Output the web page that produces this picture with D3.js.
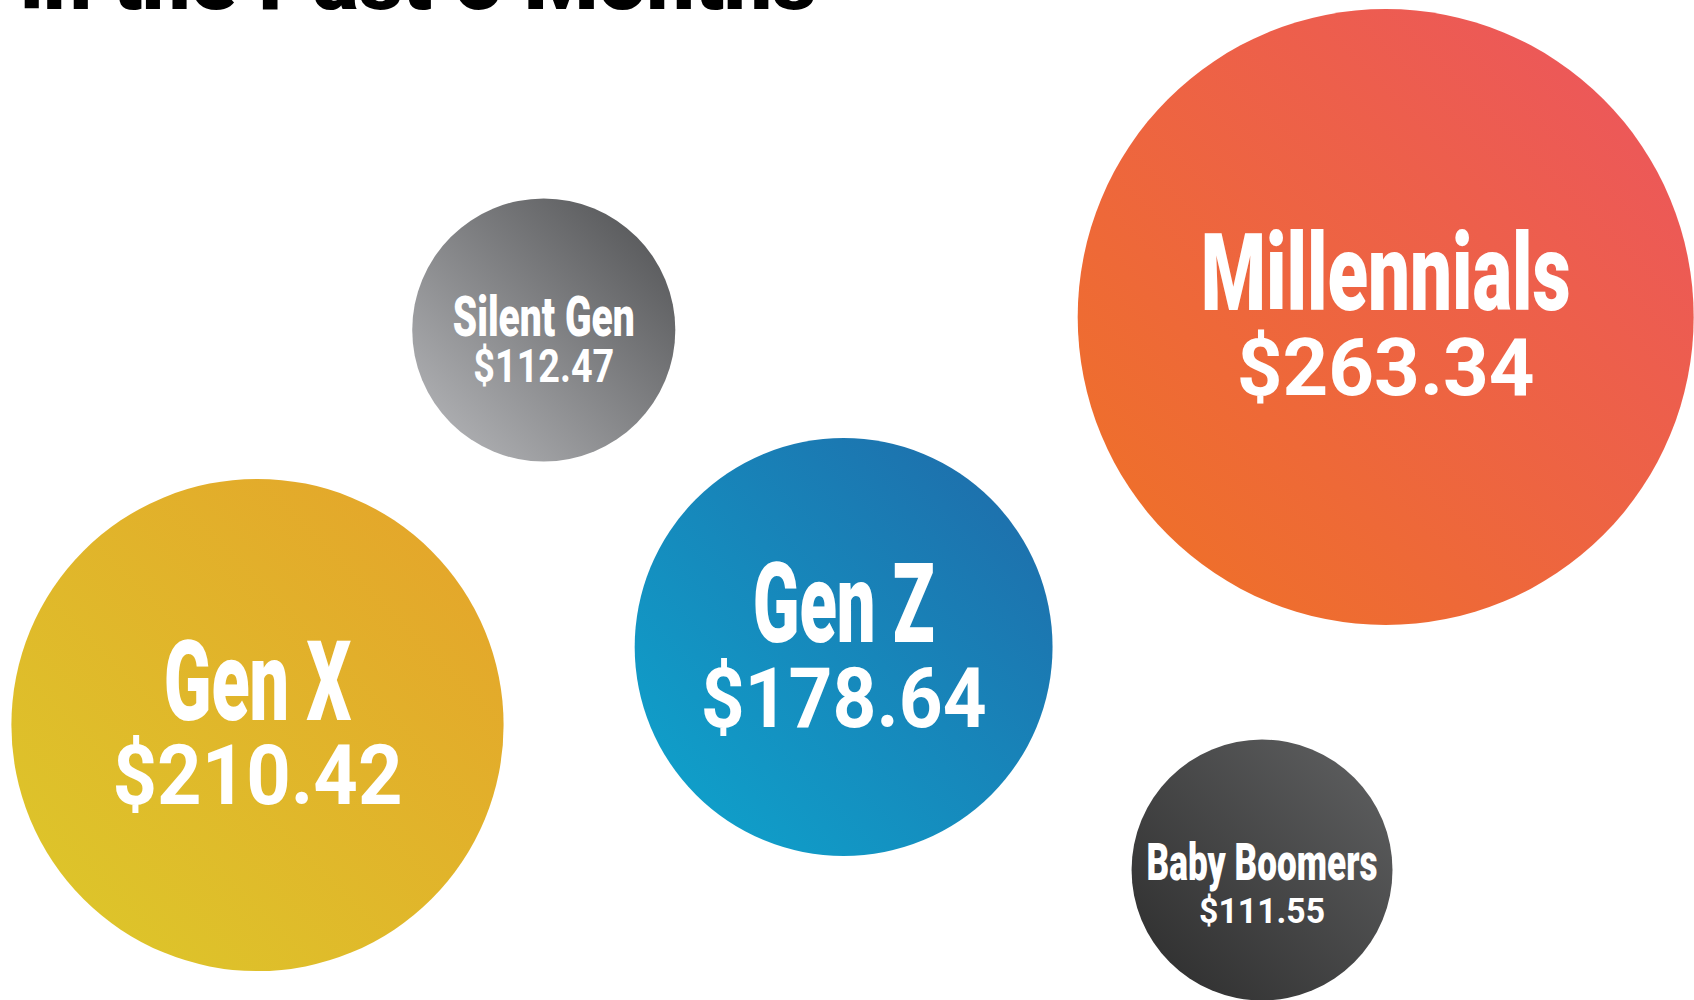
<!DOCTYPE html>
<html>
<head>
<meta charset="utf-8">
<script src="https://cdn.jsdelivr.net/npm/d3@7"></script>
<style>
  html, body { margin: 0; padding: 0; background: #fff; overflow: hidden; }
  svg { display: block; }
</style>
</head>
<body>
<script>
(function(){
  var width = 1694;
  var height = 1000;

  // data
  var generations = ["Silent Gen", "Gen X", "Gen Z", "Millennials", "Baby Boomers"];
  var spend = [112.47, 210.42, 178.64, 263.34, 111.55];
  var titleLine = "in the Past 6 Months";

  // layout (normalised bubble anchors, 0..1 of the page)
  var anchorX = [0.321, 0.152, 0.498, 0.818, 0.745];
  var anchorY = [0.330, 0.725, 0.647, 0.317, 0.870];

  // styling per bubble
  var gradients = [
    ["#babbbe", "#4d4e50"],
    ["#dcc92a", "#e5a22b"],
    ["#0da6ce", "#2069a8"],
    ["#ef7323", "#ec5461"],
    ["#2b2b2b", "#616263"]
  ];
  var labelSize = [56, 112, 112, 108, 52];
  var valueSize = [46, 83, 83, 80, 35];
  var labelWidth = [182, 188, 182, 370, 231];
  var valueWidth = [141, 290, 286, 298, 126];
  var labelDy = [6, -5, -5, -7, 10];
  var valueDy = [52, 79, 80, 78, 53];

  var font = "Roboto, 'Liberation Sans', sans-serif";

  var svg = d3.select("body").append("svg")
    .attr("width", width)
    .attr("height", height);

  var x = d3.scaleLinear().domain([0, 1]).range([0, width]);
  var y = d3.scaleLinear().domain([0, 1]).range([0, height]);
  var r = d3.scaleLinear().domain([0, d3.max(spend)]).range([0, 308]);

  var defs = svg.append("defs");
  gradients.forEach(function(g, i) {
    var lg = defs.append("linearGradient")
      .attr("id", "grad" + i)
      .attr("x1", 0).attr("y1", 1)
      .attr("x2", 1).attr("y2", 0);
    lg.append("stop").attr("offset", "0%").attr("stop-color", g[0]);
    lg.append("stop").attr("offset", "100%").attr("stop-color", g[1]);
  });

  // squeeze a text horizontally so its ink spans the wanted width
  function fitWidth(sel, dyOf, widthOf) {
    sel.each(function(d) {
      var t = d3.select(this);
      var box = this.getBBox();
      var sx = widthOf(d) / box.width;
      t.attr("transform", "translate(0," + dyOf(d) + ") scale(" + sx + ",1)");
    });
  }

  // cut-off title line at the top
  var title = svg.append("text")
    .attr("text-anchor", "start")
    .style("font-family", font)
    .style("font-weight", 900)
    .style("font-size", "80px")
    .style("fill", "#000")
    .text(titleLine);
  var tb = title.node().getBBox();
  title.attr("transform", "translate(20,9) scale(" + (796 / tb.width) + ",1)");

  var bubbles = generations.map(function(name, i) {
    return { name: name, value: spend[i], i: i };
  });

  var g = svg.selectAll("g.bubble")
    .data(bubbles)
    .enter().append("g")
    .attr("class", "bubble")
    .attr("transform", function(d) { return "translate(" + x(anchorX[d.i]) + "," + y(anchorY[d.i]) + ")"; });

  g.append("circle")
    .attr("r", function(d) { return r(d.value); })
    .style("fill", function(d) { return "url(#grad" + d.i + ")"; });

  g.append("text")
    .attr("class", "label")
    .attr("text-anchor", "middle")
    .style("font-family", font)
    .style("font-weight", 900)
    .style("font-size", function(d) { return labelSize[d.i] + "px"; })
    .style("fill", "#fff")
    .text(function(d) { return d.name; })
    .call(fitWidth, function(d) { return labelDy[d.i]; }, function(d) { return labelWidth[d.i]; });

  g.append("text")
    .attr("class", "value")
    .attr("text-anchor", "middle")
    .style("font-family", font)
    .style("font-weight", 700)
    .style("font-size", function(d) { return valueSize[d.i] + "px"; })
    .style("fill", "#fff")
    .text(function(d) { return d3.format("$.2f")(d.value); })
    .call(fitWidth, function(d) { return valueDy[d.i]; }, function(d) { return valueWidth[d.i]; });
})();
</script>
</body>
</html>
